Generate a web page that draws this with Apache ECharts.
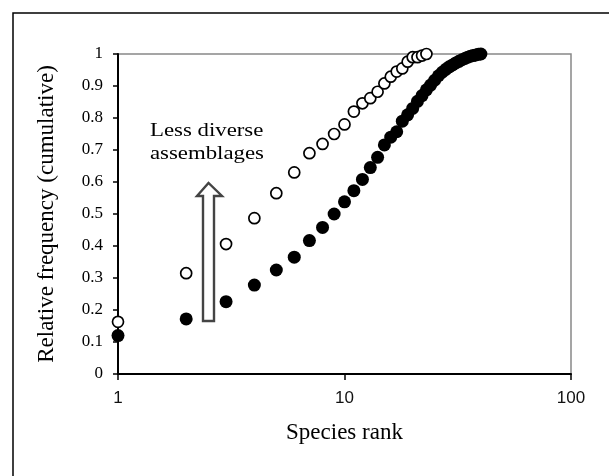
<!DOCTYPE html>
<html>
<head>
    <meta charset="UTF-8">
    <title>Species rank</title>
    <style type="text/css">
        *{
            margin: 0;padding: 0;
        }
        body{ background: #fff; }
        #main{
            width: 609px;
            height: 476px;
        }
    </style>
    <script src="https://cdn.jsdelivr.net/npm/echarts@6/dist/echarts.min.js"></script>
</head>
<body>
<div id="main"></div>
<script type="text/javascript">
    // ranks and cumulative relative frequency
    var ranksOpen = [1,2,3,4,5,6,7,8,9,10,11,12,13,14,15,16,17,18,19,20,21,22,23];
    var freqOpen = [0.163,0.315,0.406,0.487,0.565,0.63,0.69,0.719,0.75,0.78,0.82,0.846,0.862,0.882,0.908,0.929,0.945,0.955,0.976,0.99,0.99,0.995,1.0];

    var ranksFilled = [1,2,3,4,5,6,7,8,9,10,11,12,13,14,15,16,17,18,19,20,
        21,22,23,24,25,26,27,28,29,30,31,32,33,34,35,36,37,38,39,40];
    var freqFilled = [0.12,0.172,0.226,0.278,0.325,0.365,0.417,0.458,0.5,0.538,
        0.573,0.608,0.645,0.677,0.716,0.74,0.757,0.79,0.81,0.83,
        0.852,0.87,0.888,0.903,0.918,0.932,0.943,0.952,0.96,0.966,
        0.972,0.977,0.982,0.986,0.99,0.993,0.995,0.997,0.999,1.0];

    var xTicks = [1, 10, 100];
    var yTicks = [0,0.1,0.2,0.3,0.4,0.5,0.6,0.7,0.8,0.9,1];

    function pairs(xs, ys) {
        return xs.map(function (x, i) { return [x, ys[i]]; });
    }

    var myChart = echarts.init(document.getElementById('main'));

    var serif = '"Liberation Serif", "Times New Roman", serif';

    option = {
        animation: false,
        backgroundColor: '#fff',
        grid: {
            left: 118,
            right: 38,
            top: 54,
            bottom: 102,
            show: true,
            borderColor: '#888',
            borderWidth: 1.5
        },
        xAxis: {
            type: 'log',
            logBase: 10,
            min: xTicks[0],
            max: xTicks[xTicks.length - 1],
            name: 'Species rank',
            nameLocation: 'middle',
            nameGap: 47,
            nameTextStyle: {fontFamily: serif, fontSize: 23, color: '#000'},
            axisLine: {lineStyle: {color: '#000', width: 2}},
            axisTick: {length: 6, lineStyle: {color: '#000', width: 1.5}},
            axisLabel: {
                margin: 16,
                fontFamily: '"Liberation Sans", Arial, sans-serif',
                fontSize: 17,
                color: '#111',
                formatter: function (v) { return String(v); }
            },
            splitLine: {show: false}
        },
        yAxis: {
            type: 'value',
            min: yTicks[0],
            max: yTicks[yTicks.length - 1],
            interval: 0.1,
            name: 'Relative frequency (cumulative)',
            nameLocation: 'middle',
            nameGap: 60,
            nameTextStyle: {fontFamily: serif, fontSize: 23, color: '#000'},
            axisLine: {show: true, lineStyle: {color: '#000', width: 2}},
            axisTick: {show: true, length: 5, lineStyle: {color: '#000', width: 1.5}},
            axisLabel: {
                margin: 15,
                fontFamily: serif,
                fontSize: 17,
                color: '#000',
                formatter: function (v) { return String(Math.round(v * 10) / 10); }
            },
            splitLine: {show: false}
        },
        graphic: [
            {   // outer frame
                type: 'rect',
                silent: true,
                shape: {x: 13, y: 13, width: 700, height: 600},
                style: {fill: 'none', stroke: '#000', lineWidth: 1.5}
            },
            {   // hollow arrow
                type: 'polygon',
                silent: true,
                shape: {
                    points: [[203, 321], [214, 321], [214, 196], [222, 196],
                             [208.5, 183], [197, 196], [203, 196]]
                },
                style: {fill: '#fff', stroke: '#444', lineWidth: 2.4}
            },
            {
                type: 'text',
                silent: true,
                left: 150,
                top: 120,
                scaleX: 1.2,
                style: {
                    text: 'Less diverse\nassemblages',
                    font: '19px ' + serif,
                    lineHeight: 23,
                    fill: '#000'
                }
            }
        ],
        series: [
            {
                name: 'filled',
                type: 'scatter',
                clip: false,
                symbol: 'circle',
                symbolSize: 13,
                itemStyle: {color: '#000', opacity: 1},
                data: pairs(ranksFilled, freqFilled)
            },
            {
                name: 'open',
                type: 'scatter',
                clip: false,
                symbol: 'circle',
                symbolSize: 11,
                itemStyle: {color: '#fff', borderColor: '#000', borderWidth: 1.7, opacity: 1},
                data: pairs(ranksOpen, freqOpen)
            }
        ]
    };
    myChart.setOption(option);
</script>
</body>
</html>
